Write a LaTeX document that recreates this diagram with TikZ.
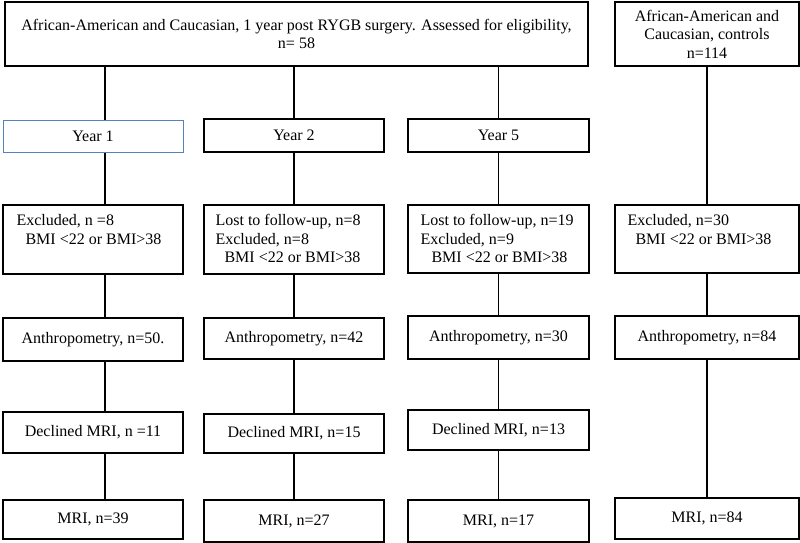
\documentclass[tikz,border=0pt]{standalone}
\usepackage{fontspec}
\setmainfont{Liberation Serif}
\definecolor{boxblue}{RGB}{84,130,190}
\begin{document}
\begin{tikzpicture}[x=1pt,y=-1pt,
  box/.style={draw, line width=1.3pt, rectangle, inner sep=0pt, align=center,
    font=\fontsize{16}{18.5}\selectfont},
  lbl/.style={anchor=north west, inner sep=0pt, align=left,
    font=\fontsize{16}{18.5}\selectfont},
  conn/.style={line width=1.3pt}]
\useasboundingbox (0,0) rectangle (800,543);
% top row
\node[box, minimum width=583, minimum height=64] (top) at (296.5,34)
  {African-American and Caucasian, 1 year post RYGB surgery. Assessed for eligibility,\\ n= 58};
\node[box, minimum width=184, minimum height=64] (ctrl) at (707,34)
  {African-American and\\ Caucasian, controls\\ n=114};
% year boxes
\node[box, draw=boxblue, line width=1pt, minimum width=180, minimum height=32] (y1) at (93,136) {Year 1};
\node[box, minimum width=180, minimum height=33] (y2) at (294,135.5) {Year 2};
\node[box, minimum width=181, minimum height=33] (y5) at (498.5,135.5) {Year 5};
% exclusion boxes
\node[box, minimum width=180, minimum height=69] (ex1) at (93,239.5) {};
\node[box, minimum width=180, minimum height=69] (ex2) at (294,239.5) {};
\node[box, minimum width=181, minimum height=68] (ex5) at (498.5,239) {};
\node[box, minimum width=184, minimum height=68] (exc) at (707,239) {};
\node[lbl] (t1) at ([xshift=14pt,yshift=-10pt]ex1.north west)
  {Excluded, n =8\\ \hspace*{9pt}BMI <22 or BMI>38};
\node[lbl] (t2) at ([xshift=12pt,yshift=-10pt]ex2.north west)
  {Lost to follow-up, n=8\\ Excluded, n=8\\ \hspace*{9pt}BMI <22 or BMI>38};
\node[lbl] (t5) at ([xshift=13pt,yshift=-10pt]ex5.north west)
  {Lost to follow-up, n=19\\ Excluded, n=9\\ \hspace*{11pt}BMI <22 or BMI>38};
\node[lbl] (tc) at ([xshift=13pt,yshift=-10pt]exc.north west)
  {Excluded, n=30\\ \hspace*{8pt}BMI <22 or BMI>38};
% anthropometry
\node[box, minimum width=180, minimum height=43] (an1) at (93,339.5) {Anthropometry, n=50.};
\node[box, minimum width=180, minimum height=41] (an2) at (294,338.5) {Anthropometry, n=42};
\node[box, minimum width=181, minimum height=43] (an5) at (498.5,337.5) {Anthropometry, n=30};
\node[box, minimum width=184, minimum height=43] (anc) at (707,337.5) {Anthropometry, n=84};
% declined
\node[box, minimum width=180, minimum height=41] (de1) at (93,432.5) {Declined MRI, n =11};
\node[box, minimum width=180, minimum height=39] (de2) at (294,433.5) {Declined MRI, n=15};
\node[box, minimum width=181, minimum height=40] (de5) at (498.5,430) {Declined MRI, n=13};
% MRI
\node[box, minimum width=180, minimum height=39] (m1) at (93,519.5) {MRI, n=39};
\node[box, minimum width=180, minimum height=42] (m2) at (294,521) {MRI, n=27};
\node[box, minimum width=181, minimum height=42] (m5) at (498.5,521) {MRI, n=17};
\node[box, minimum width=184, minimum height=41] (mc) at (707,518.5) {MRI, n=84};
% connectors
\draw[conn] ([xshift=12pt]y1.north) -- ([xshift=12pt]y1.north |- top.south);
\draw[conn] (y2.north) -- (y2.north |- top.south);
\draw[conn] (y5.north) -- (y5.north |- top.south);
\draw[conn] (exc.north) -- (ctrl.south);
\foreach \a/\b in {y1/ex1, ex1/an1, an1/de1, de1/m1}
  \draw[conn] ([xshift=12pt]\a.south) -- ([xshift=12pt]\b.north);
\foreach \a/\b in {y2/ex2, ex2/an2, an2/de2, de2/m2, y5/ex5, ex5/an5, an5/de5, de5/m5, exc/anc, anc/mc}
  \draw[conn] (\a.south) -- (\b.north);
\end{tikzpicture}
\end{document}
